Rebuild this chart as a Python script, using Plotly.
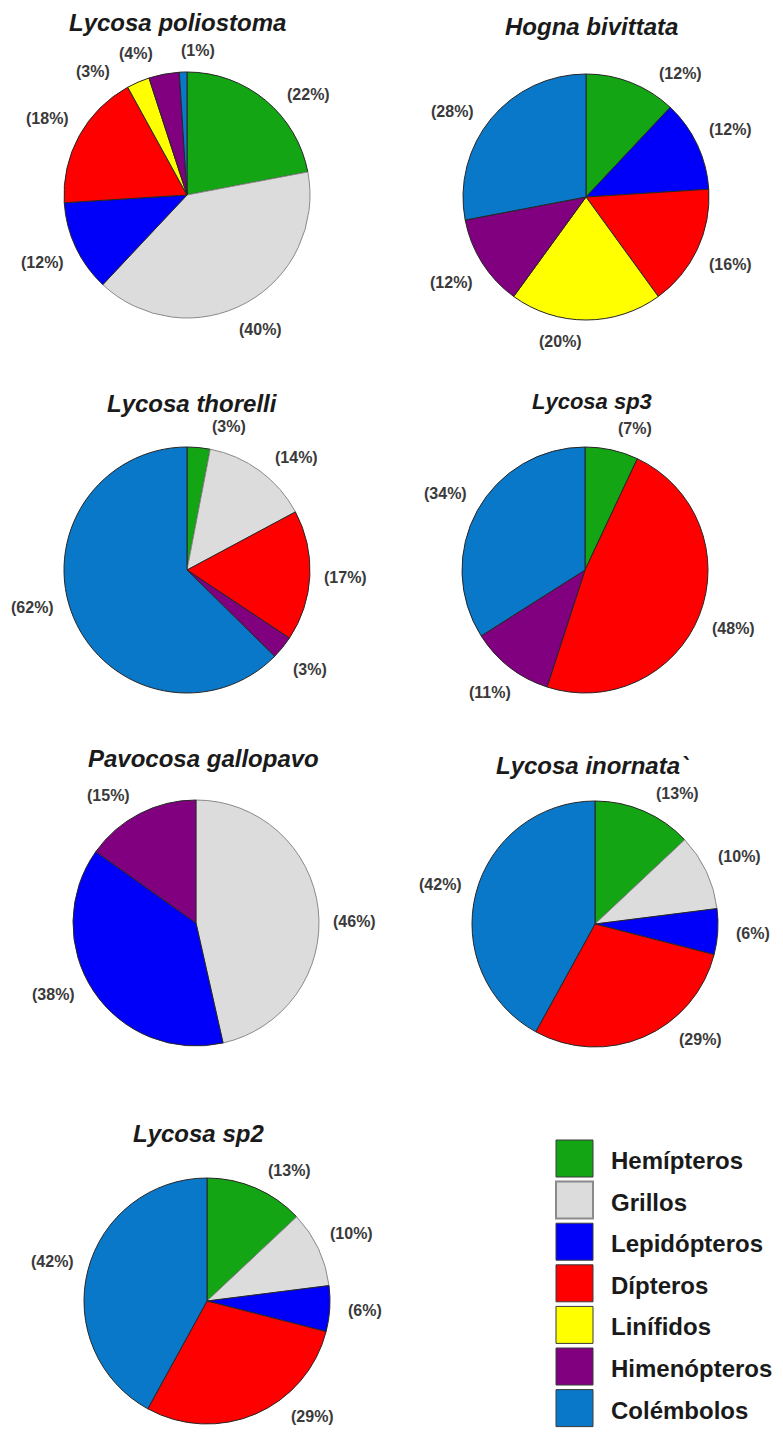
import math
import plotly.graph_objects as go

W, H = 783, 1439

# Prey categories (legend order) and their colours
categories = ["Hemípteros", "Grillos", "Lepidópteros", "Dípteros",
              "Linífidos", "Himenópteros", "Colémbolos"]
cat_colors = ["#14A514", "#DCDCDC", "#0000FA", "#FF0000",
              "#FFFF00", "#800080", "#0A78C8"]

# Species (panel titles)
species = ["Lycosa poliostoma", "Hogna bivittata", "Lycosa thorelli",
           "Lycosa sp3", "Pavocosa gallopavo", "Lycosa inornata`",
           "Lycosa sp2"]

# Diet composition (%) per species, in category order (0 = absent)
poliostoma = [22, 40, 12, 18, 3, 4, 1]
bivittata = [12, 0, 12, 16, 20, 12, 28]
thorelli = [3, 14, 0, 17, 0, 3, 62]
sp3 = [7, 0, 0, 48, 0, 11, 34]
gallopavo = [0, 46, 38, 0, 0, 15, 0]
inornata = [13, 10, 6, 29, 0, 0, 42]
sp2 = [13, 10, 6, 29, 0, 0, 42]
values = [poliostoma, bivittata, thorelli, sp3, gallopavo, inornata, sp2]

# Panel layout in pixels: pie centre, radius, title anchor, title size
R = 123
pie_centers = [(187, 195), (586, 197), (187, 570), (585, 570),
               (196, 923), (595, 924), (207, 1301)]
title_pos = [(177, 23), (591, 27), (192, 403), (592, 402),
             (203, 758), (592, 765), (198, 1133)]
title_size = [24, 24, 24, 22, 24, 24, 24]

# Angular shifts (degrees) for labels moved off the slice bisector
label_shift = {
    ("Lycosa poliostoma", "Hemípteros"): 11,
    ("Lycosa poliostoma", "Linífidos"): -14,
    ("Lycosa poliostoma", "Himenópteros"): -9,
    ("Lycosa poliostoma", "Colémbolos"): 6,
    ("Hogna bivittata", "Hemípteros"): 16,
    ("Hogna bivittata", "Linífidos"): 10,
    ("Hogna bivittata", "Colémbolos"): -7,
    ("Lycosa thorelli", "Hemípteros"): 11,
    ("Lycosa thorelli", "Grillos"): 8,
    ("Lycosa thorelli", "Colémbolos"): 9,
    ("Lycosa sp3", "Hemípteros"): 7,
    ("Pavocosa gallopavo", "Grillos"): 6,
    ("Pavocosa gallopavo", "Lepidópteros"): 7,
    ("Pavocosa gallopavo", "Himenópteros"): -7,
    ("Lycosa inornata`", "Hemípteros"): 9,
    ("Lycosa inornata`", "Dípteros"): -19,
    ("Lycosa sp2", "Hemípteros"): 9,
    ("Lycosa sp2", "Dípteros"): -19,
}


def px(x):
    return x / W


def py(y):
    return 1 - y / H


FONT = "Liberation Sans, Arial, sans-serif"

fig = go.Figure()
annotations = []

for name, vals, (cx, cy), (tx, ty), ts in zip(species, values, pie_centers,
                                              title_pos, title_size):
    labs = [c for c, v in zip(categories, vals) if v > 0]
    vv = [v for v in vals if v > 0]
    cols = [col for col, v in zip(cat_colors, vals) if v > 0]
    edge = ["#8A8A8A" if c == "Grillos" else "#262626" for c in labs]

    fig.add_trace(go.Pie(
        labels=labs, values=vv, sort=False, direction="clockwise",
        rotation=0, textinfo="none", hoverinfo="label+value",
        marker=dict(colors=cols, line=dict(color=edge, width=1)),
        domain=dict(x=[px(cx - R), px(cx + R)], y=[py(cy + R), py(cy - R)]),
        showlegend=False,
    ))

    # Percentage labels placed just outside each slice
    total = sum(vv)
    acc = 0
    for lab, v in zip(labs, vv):
        mid = (acc + v / 2) / total * 360
        acc += v
        ang = math.radians(mid + label_shift.get((name, lab), 0))
        ux, uy = math.sin(ang), -math.cos(ang)
        d = R + 12 + abs(ux) * 23 + abs(uy) * 8
        annotations.append(dict(
            x=px(cx + d * ux), y=py(cy + d * uy), xref="paper", yref="paper",
            text=f"({v}%)", showarrow=False, xanchor="center", yanchor="middle",
            font=dict(family=FONT, size=16, color="#3A3A3A", weight="bold"),
        ))

    annotations.append(dict(
        x=px(tx), y=py(ty), xref="paper", yref="paper", text=name,
        showarrow=False, xanchor="center", yanchor="middle",
        font=dict(family=FONT, size=ts, color="#1A1A1A", weight="bold",
                  style="italic"),
    ))

# Legend: coloured boxes with category names
shapes = []
box_x0, box_x1 = 556, 593
row0, pitch, box_h = 1158.5, 41.6, 37
for i, (cat, col) in enumerate(zip(categories, cat_colors)):
    yc = row0 + i * pitch
    shapes.append(dict(
        type="rect", xref="paper", yref="paper",
        x0=px(box_x0), x1=px(box_x1),
        y0=py(yc + box_h / 2), y1=py(yc - box_h / 2),
        fillcolor=col,
        line=dict(color="#8A8A8A" if cat == "Grillos" else "#3A3A3A",
                  width=2 if cat == "Grillos" else 1),
    ))
    annotations.append(dict(
        x=px(609), y=py(yc + 2), xref="paper", yref="paper", text=cat,
        showarrow=False, xanchor="left", yanchor="middle",
        font=dict(family=FONT, size=24, color="#1A1A1A", weight="bold"),
    ))

fig.update_layout(
    width=W, height=H, autosize=False,
    margin=dict(l=0, r=0, t=0, b=0),
    paper_bgcolor="white", plot_bgcolor="white",
    annotations=annotations, shapes=shapes,
)

fig.write_html("out.html")
